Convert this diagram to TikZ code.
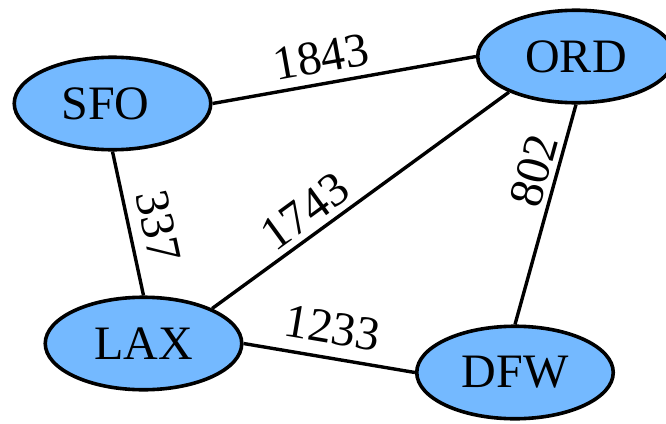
\documentclass[tikz,border=0pt]{standalone}
\usepackage{fontspec}
\setmainfont{Liberation Serif}
\usetikzlibrary{shapes.geometric}
\definecolor{nodeblue}{RGB}{116,185,255}
\newcommand{\apt}[1]{\raisebox{-3pt}{#1}}
\begin{document}
\begin{tikzpicture}[x=1pt,y=-1pt,
  airport/.style={ellipse, draw=black, line width=3.6pt, fill=nodeblue,
    minimum width=196.5pt, minimum height=92.5pt, inner sep=0pt,
    font=\fontsize{48}{56}\selectfont},
  route/.style={line width=3.4pt},
  dist/.style={sloped, above, font=\fontsize{48}{56}\selectfont}]
\useasboundingbox (0,0) rectangle (666,423);
\clip (0,0) rectangle (666,423);
\node[airport] (SFO) at (112.5,103.5) {\apt{\hspace*{-14pt}SFO}};
\node[airport] (ORD) at (576,56.5) {\apt{ORD}};
\node[airport] (LAX) at (143.5,343.5) {\apt{LAX}};
\node[airport] (DFW) at (515,372.5) {\apt{DFW}};
\draw[route] (SFO.east) -- node[dist, pos=0.43, inner sep=9pt] {1843} (ORD.west);
\draw[route] (SFO.south) -- node[dist, pos=0.56, inner sep=11pt] {337} (LAX.north);
\draw[route] (LAX.27) -- node[dist, pos=0.36, inner sep=6pt] {1743} (ORD.208);
\draw[route] (ORD.south) -- node[dist, pos=0.33, inner sep=5pt] {802} (DFW.north);
\draw[route] (LAX.east) -- node[dist, pos=0.49, inner sep=12pt] {1233} (DFW.west);
\end{tikzpicture}
\end{document}
